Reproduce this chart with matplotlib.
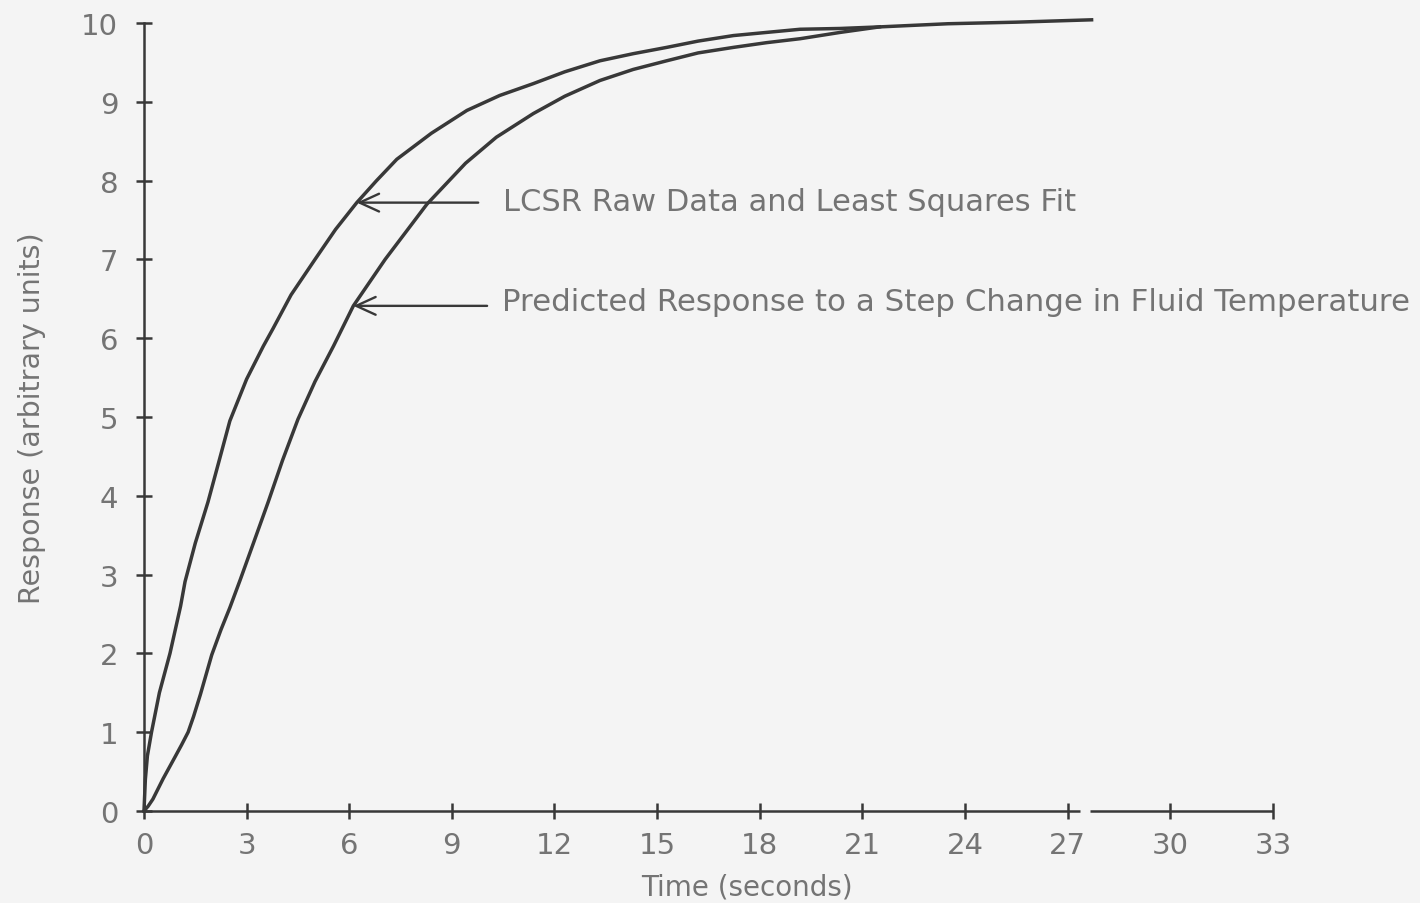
import matplotlib
matplotlib.use("Agg")
import matplotlib.pyplot as plt

# LCSR raw data / least squares fit (seconds, arbitrary units)
lcsr_time = [0, 0.04, 0.1, 0.22, 0.45, 0.76, 1.07, 1.2, 1.5, 1.87, 2.2, 2.51, 3.0,
             3.49, 3.77, 4.3, 5.0, 5.6, 6.22, 6.8, 7.39, 8.4, 9.44, 10.4, 11.38,
             12.3, 13.33, 14.3, 15.28, 16.2, 17.23, 18.2, 19.18, 20.35, 21.5,
             23.5, 25.5, 27.7]
lcsr_resp = [0, 0.4, 0.7, 1.0, 1.5, 2.0, 2.6, 2.91, 3.4, 3.92, 4.45, 4.95, 5.48,
             5.9, 6.12, 6.55, 7.0, 7.38, 7.72, 8.0, 8.27, 8.6, 8.89, 9.08, 9.23,
             9.38, 9.52, 9.61, 9.69, 9.77, 9.84, 9.88, 9.92, 9.93, 9.95,
             9.99, 10.01, 10.04]

# predicted response to a step change in fluid temperature
pred_time = [0, 0.12, 0.26, 0.56, 0.9, 1.1, 1.29, 1.45, 1.65, 1.98, 2.25, 2.51,
             2.81, 3.2, 3.63, 4.05, 4.5, 5.0, 5.54, 6.12, 7.05, 8.27, 9.4, 10.3,
             11.38, 12.3, 13.33, 14.3, 15.28, 16.2, 17.23, 18.2, 19.18, 20.35,
             21.5]
pred_resp = [0, 0.06, 0.15, 0.41, 0.68, 0.84, 1.0, 1.2, 1.48, 1.98, 2.3, 2.58,
             2.93, 3.4, 3.92, 4.45, 4.97, 5.45, 5.9, 6.41, 7.0, 7.7, 8.22, 8.55,
             8.85, 9.07, 9.27, 9.41, 9.52, 9.62, 9.69, 9.75, 9.80, 9.88, 9.95]

x_ticks = [0, 3, 6, 9, 12, 15, 18, 21, 24, 27, 30, 33]
y_ticks = [0, 1, 2, 3, 4, 5, 6, 7, 8, 9, 10]

label_lcsr = "LCSR Raw Data and Least Squares Fit"
label_pred = "Predicted Response to a Step Change in Fluid Temperature"

bg = "#f4f4f4"
ink = "#383838"
txt = "#747474"

plt.rcParams["font.family"] = ["DejaVu Sans"]

fig = plt.figure(figsize=(14.2, 9.04), dpi=100, facecolor=bg)
ax = fig.add_axes([0.1014, 0.1018, 0.795, 0.8717], facecolor=bg)

ax.plot(lcsr_time, lcsr_resp, color=ink, lw=2.5, solid_joinstyle="round",
        clip_on=False)
ax.plot(pred_time, pred_resp, color=ink, lw=2.5, solid_joinstyle="round",
        clip_on=False)

ax.set_xlim(0, 33)
ax.set_ylim(0, 10)

# axes drawn as plain lines crossing at the origin
for s in ["top", "right", "bottom"]:
    ax.spines[s].set_visible(False)
ax.spines["left"].set_color(ink)
ax.spines["left"].set_linewidth(1.8)
ax.hlines(0, 0, 27.35, color=ink, lw=1.8, clip_on=False)
ax.hlines(0, 27.65, 33, color=ink, lw=1.8, clip_on=False)

ax.set_xticks(x_ticks)
ax.set_yticks(y_ticks)
ax.tick_params(direction="inout", length=11, width=1.8, color=ink,
               labelcolor=txt, labelsize=21)
ax.tick_params(axis="y", pad=13)
ax.tick_params(axis="x", pad=9)

ax.set_xlabel("Time (seconds)", fontsize=20, color=txt)
ax.xaxis.set_label_coords(0.534, -0.078)
ax.set_ylabel("Response (arbitrary units)", fontsize=20.5, color=txt)
ax.yaxis.set_label_coords(-0.087, 0.5)

arrow = dict(arrowstyle="->,head_length=0.7,head_width=0.32", color=ink,
             lw=1.7, shrinkA=0, shrinkB=0, mutation_scale=20)
ax.annotate("", xy=(6.22, 7.72), xytext=(9.77, 7.72), arrowprops=arrow)
ax.annotate("", xy=(6.12, 6.41), xytext=(10.03, 6.41), arrowprops=arrow)
ax.text(10.5, 7.73, label_lcsr, fontsize=22, color=txt, va="center", ha="left")
ax.text(10.47, 6.47, label_pred, fontsize=22.2, color=txt, va="center", ha="left")

fig.savefig("out.png", dpi=100, facecolor=bg)
